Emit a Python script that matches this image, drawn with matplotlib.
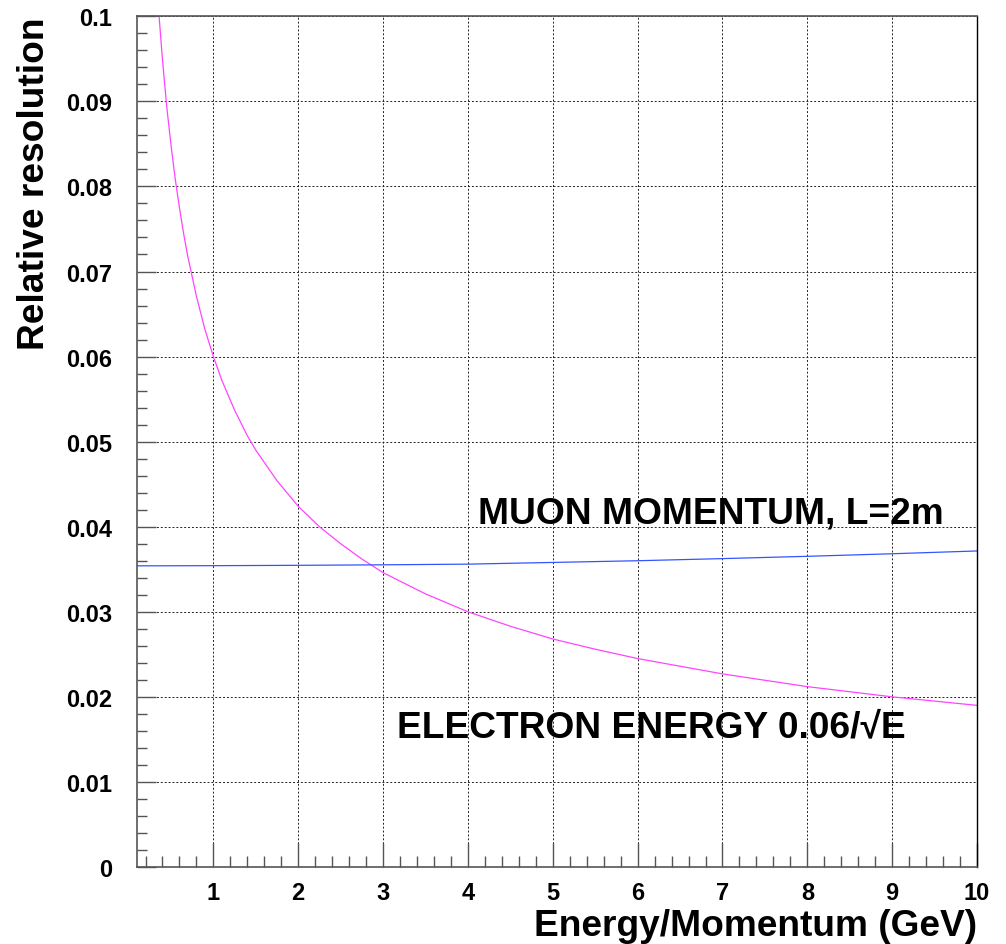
import matplotlib
matplotlib.use("Agg")
import matplotlib.pyplot as plt
from matplotlib.ticker import MultipleLocator, FixedLocator

plt.rcParams['font.family'] = ['Liberation Sans', 'DejaVu Sans']
plt.rcParams['font.weight'] = 'bold'

# Electron energy resolution
e_x = [0.36, 0.4, 0.45, 0.5, 0.55, 0.6, 0.65, 0.7, 0.8, 0.9, 1.0, 1.1, 1.25, 1.4, 1.5, 1.75,
       2.0, 2.25, 2.5, 2.75, 3.0, 3.5, 4.0, 4.5, 5.0, 5.5, 6.0, 7.0, 8.0, 9.0, 10.0]
e_y = [0.1, 0.0949, 0.0894, 0.0849, 0.0809, 0.0775, 0.0744, 0.0717, 0.0671, 0.0632, 0.06,
       0.0572, 0.0537, 0.0507, 0.049, 0.0454, 0.0424, 0.04, 0.038, 0.0362, 0.0346, 0.0321,
       0.03, 0.0283, 0.0268, 0.0256, 0.0245, 0.0227, 0.0212, 0.02, 0.019]

# Muon momentum resolution, L=2m
m_x = [0.1, 1.0, 2.0, 3.0, 4.0, 5.0, 6.0, 7.0, 8.0, 9.0, 10.0]
m_y = [0.0354, 0.03542, 0.03546, 0.03552, 0.0356, 0.0358, 0.036, 0.03625, 0.03652, 0.03682, 0.03715]

x_ticks = [1, 2, 3, 4, 5, 6, 7, 8, 9, 10]
y_ticks = [0, 0.01, 0.02, 0.03, 0.04, 0.05, 0.06, 0.07, 0.08, 0.09, 0.1]
y_tick_labels = ["0", "0.01", "0.02", "0.03", "0.04", "0.05", "0.06", "0.07", "0.08", "0.09", "0.1"]

fig = plt.figure(figsize=(10.06, 9.45), dpi=100)
ax = fig.add_axes([0.1362, 0.0815, 0.9712 - 0.1362, 0.9817 - 0.0815])

ax.plot(e_x, e_y, color='#ff44ff', lw=0.9)
ax.plot(m_x, m_y, color='#3355ff', lw=0.9)

ax.set_xlim(0.1, 10)
ax.set_ylim(0, 0.1)
ax.xaxis.set_major_locator(FixedLocator(x_ticks))
ax.xaxis.set_minor_locator(MultipleLocator(0.2))
ax.yaxis.set_major_locator(FixedLocator(y_ticks))
ax.set_yticklabels(y_tick_labels)
ax.set_xticklabels([str(v) for v in x_ticks])
ax.yaxis.set_minor_locator(MultipleLocator(0.002))

ax.grid(True, which='major', color='#222222', linestyle=(0, (2, 2)), linewidth=0.7)

ax.tick_params(axis='x', which='major', direction='in', length=17, width=1.0, color='#555555',
               labelsize=17, pad=10)
ax.tick_params(axis='x', which='minor', direction='in', length=8, width=1.0, color='#555555')
ax.tick_params(axis='y', which='major', direction='in', length=14, width=1.0, color='#555555',
               labelsize=17, pad=18)
ax.tick_params(axis='y', which='minor', direction='in', length=7, width=1.0, color='#555555')
for lab in ax.get_xticklabels() + ax.get_yticklabels():
    lab.set_fontweight('bold')

for s in ['left', 'bottom', 'top']:
    ax.spines[s].set_color('#555555')
    ax.spines[s].set_linewidth(1.2)
ax.spines['right'].set_color('black')
ax.spines['right'].set_linewidth(1.0)

ax.set_xlabel('Energy/Momentum (GeV)', fontsize=26.7, fontweight='bold', loc='right')
ax.xaxis.label.set_va('baseline')
ax.xaxis.set_label_coords(1.0, -0.080)
ax.set_ylabel('Relative resolution', fontsize=26.7, fontweight='bold', loc='top')
ax.yaxis.set_label_coords(-0.101, 1.0)

ax.text(4.12, 0.0416, 'MUON MOMENTUM, L=2m', fontsize=26.7, fontweight='bold',
        ha='left', va='center')
ax.text(3.16, 0.0165, 'ELECTRON ENERGY 0.06/\u221AE', fontsize=26.7, fontweight='bold',
        ha='left', va='center')

fig.savefig('out.png', dpi=100)
